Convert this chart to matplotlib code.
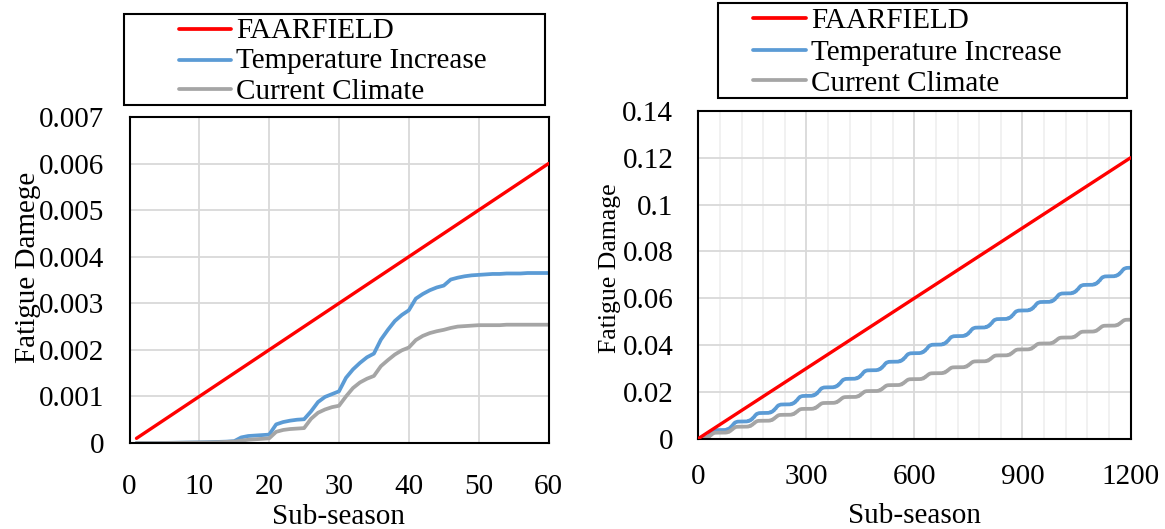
import matplotlib
matplotlib.use("Agg")
import matplotlib.pyplot as plt
import numpy as np
from matplotlib.lines import Line2D
from matplotlib.patches import Rectangle
from matplotlib.ticker import MultipleLocator

plt.rcParams['font.family'] = ['Liberation Serif', 'DejaVu Serif']

# ---- data -------------------------------------------------------------
series_names = ["FAARFIELD", "Temperature Increase", "Current Climate"]
series_colors = ["#FF0000", "#5B9BD5", "#A5A5A5"]

# one year of sub-seasons
sub_season = np.arange(1, 61)

# FAARFIELD design damage grows linearly: end points of the line
faarfield_x = [1, 60]
faarfield_y = [0.0001, 0.006]

temperature_increase = [
    0.0, 0.0, 0.0, 0.0, 0.000002, 0.000004, 0.000006, 0.000008, 0.00001, 0.000012,
    0.000015, 0.00002, 0.000025, 0.00003, 0.00004, 0.00012, 0.00015, 0.00016, 0.00017, 0.00018,
    0.00040, 0.00045, 0.00048, 0.00050, 0.00051, 0.00068, 0.00088, 0.00099, 0.00105, 0.00111,
    0.00140, 0.00158, 0.00172, 0.00184, 0.00192, 0.00222, 0.00243, 0.00262, 0.00275, 0.00285,
    0.00310, 0.00320, 0.00328, 0.00334, 0.00338, 0.00351, 0.00355, 0.00358, 0.00360, 0.00361,
    0.00362, 0.00363, 0.00363, 0.00364, 0.00364, 0.00364, 0.00365, 0.00365, 0.00365, 0.00365,
]
current_climate = [
    0.0, 0.0, 0.0, 0.0, 0.000001, 0.000002, 0.000004, 0.000006, 0.000008, 0.00001,
    0.000012, 0.000015, 0.00002, 0.000025, 0.00003, 0.00005, 0.00007, 0.00008, 0.00009, 0.00010,
    0.00024, 0.00028, 0.00030, 0.00031, 0.00032, 0.00052, 0.00065, 0.00072, 0.00077, 0.00080,
    0.00100, 0.00118, 0.00130, 0.00138, 0.00144, 0.00165, 0.00178, 0.00190, 0.00199, 0.00205,
    0.00221, 0.00230, 0.00236, 0.00240, 0.00243, 0.00247, 0.00250, 0.00251, 0.00252, 0.00253,
    0.00253, 0.00253, 0.00253, 0.00254, 0.00254, 0.00254, 0.00254, 0.00254, 0.00254, 0.00254,
]

# twenty-year design life: the annual damage accumulates year after year
design_years = 20
long_sub_season = np.arange(1, 60 * design_years + 1)
faarfield_long_x = [1, 1200]
faarfield_long_y = [0.0001, 0.12]


def accumulate(annual, years):
    annual = np.asarray(annual)
    return np.concatenate([k * annual[-1] + annual for k in range(years)])


temperature_long = accumulate(temperature_increase, design_years)
current_long = accumulate(current_climate, design_years)

left_yticks = [0, 0.001, 0.002, 0.003, 0.004, 0.005, 0.006, 0.007]
left_yticklabels = ["0", "0.001", "0.002", "0.003", "0.004", "0.005", "0.006", "0.007"]
left_xticks = [0, 10, 20, 30, 40, 50, 60]
right_yticks = [0, 0.02, 0.04, 0.06, 0.08, 0.10, 0.12, 0.14]
right_yticklabels = ["0", "0.02", "0.04", "0.06", "0.08", "0.1", "0.12", "0.14"]
right_xticks = [0, 300, 600, 900, 1200]

# ---- figure -----------------------------------------------------------
W, H = 1165, 529
fig = plt.figure(figsize=(W / 100, H / 100), dpi=100)


def fx(x):
    return x / W


def fy(y):
    return 1 - y / H


def axes_px(x0, y0, x1, y1):
    return fig.add_axes([fx(x0), fy(y1), (x1 - x0) / W, (y1 - y0) / H])


FS = 21
LW = 2.4

ax1 = axes_px(129.5, 117, 548.5, 443)
ax2 = axes_px(698.3, 111, 1130.5, 438.6)

for ax in (ax1, ax2):
    for s in ax.spines.values():
        s.set_linewidth(1.5)
        s.set_color("black")
    ax.tick_params(length=0, labelsize=FS)
    ax.tick_params(axis="y", pad=18)
    ax.set_axisbelow(True)
ax1.tick_params(axis="x", pad=22)
ax2.tick_params(axis="x", pad=18.5)

# left panel: one year
ax1.plot(faarfield_x, faarfield_y, color=series_colors[0], lw=LW, solid_capstyle="round", zorder=3)
ax1.plot(sub_season, temperature_increase, color=series_colors[1], lw=LW + 0.3, solid_capstyle="round", zorder=2)
ax1.plot(sub_season, current_climate, color=series_colors[2], lw=LW + 0.3, solid_capstyle="round", zorder=2)
ax1.set_xlim(0, 60)
ax1.set_ylim(0, 0.007)
ax1.set_xticks(left_xticks)
ax1.set_yticks(left_yticks)
ax1.set_yticklabels(left_yticklabels)
ax1.grid(True, color="#D9D9D9", lw=1.3)
ax1.set_xlabel("Sub-season", fontsize=FS)
ax1.set_ylabel("Fatigue Damege", fontsize=FS)
ax1.xaxis.set_label_coords(0.5, -0.188)
ax1.yaxis.set_label_coords(-0.212, 0.54)

# right panel: twenty years
ax2.plot(faarfield_long_x, faarfield_long_y, color=series_colors[0], lw=LW, solid_capstyle="round", zorder=3)
ax2.plot(long_sub_season, temperature_long, color=series_colors[1], lw=LW + 0.3, solid_capstyle="round", zorder=2)
ax2.plot(long_sub_season, current_long, color=series_colors[2], lw=LW + 0.3, solid_capstyle="round", zorder=2)
ax2.set_xlim(0, 1200)
ax2.set_ylim(0, 0.14)
ax2.set_xticks(right_xticks)
ax2.xaxis.set_minor_locator(MultipleLocator(60))
ax2.set_yticks(right_yticks)
ax2.set_yticklabels(right_yticklabels)
ax2.tick_params(which="minor", length=0)
ax2.grid(True, which="major", color="#D9D9D9", lw=1.3)
ax2.grid(True, which="minor", axis="x", color="#F0F0F0", lw=1.3)
ax2.set_xlabel("Sub-season", fontsize=FS)
ax2.set_ylabel("Fatigue Damage", fontsize=18.5)
ax2.xaxis.set_label_coords(0.5, -0.198)
ax2.yaxis.set_label_coords(-0.18, 0.52)


# ---- legends drawn as framed boxes above each panel ---------------------
def framed_legend(box, handle_x, text_x, handle_y, baseline_y):
    x0, y0, x1, y1 = box
    fig.add_artist(Rectangle((fx(x0), fy(y1)), (x1 - x0) / W, (y1 - y0) / H,
                             transform=fig.transFigure, fill=False,
                             edgecolor="black", lw=1.5))
    for name, color, hy, by in zip(series_names, series_colors, handle_y, baseline_y):
        fig.add_artist(Line2D([fx(handle_x[0]), fx(handle_x[1])], [fy(hy), fy(hy)],
                              transform=fig.transFigure, color=color, lw=LW + 0.3,
                              solid_capstyle="round"))
        fig.text(fx(text_x), fy(by), name, fontsize=FS, ha="left", va="baseline")


framed_legend((124, 14, 545, 105), (179, 231), 236, (29.3, 60, 89.3), (38.3, 68.3, 99))
framed_legend((718, 3, 1127, 98), (753, 806), 811, (18.3, 50, 80), (28.3, 60, 90.7))

fig.savefig("out.png", dpi=100)
